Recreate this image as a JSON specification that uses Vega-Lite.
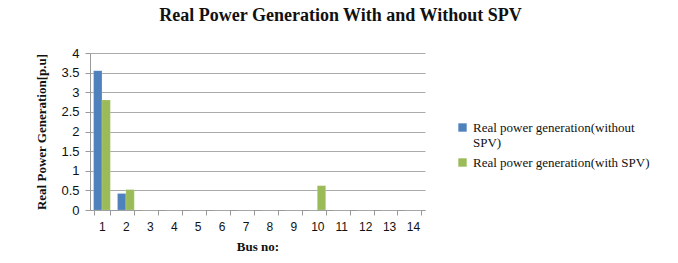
{
  "$schema": "https://vega.github.io/schema/vega-lite/v6.json",
  "autosize": {"type": "none"},
  "width": 335,
  "height": 157,
  "padding": {"left": 90, "top": 53, "right": 253, "bottom": 53},
  "background": "white",
  "title": {
    "text": "Real Power Generation With and Without SPV",
    "font": "Liberation Serif",
    "fontSize": 18,
    "fontWeight": "bold",
    "color": "#111",
    "anchor": "middle",
    "frame": "group",
    "dx": 83,
    "offset": 22
  },
  "data": {
    "values": [
      {"bus": 1, "series": "Real power generation(without SPV)", "value": 3.55},
      {"bus": 1, "series": "Real power generation(with SPV)", "value": 2.8},
      {"bus": 2, "series": "Real power generation(without SPV)", "value": 0.42},
      {"bus": 2, "series": "Real power generation(with SPV)", "value": 0.52},
      {"bus": 3, "series": "Real power generation(without SPV)", "value": 0},
      {"bus": 3, "series": "Real power generation(with SPV)", "value": 0},
      {"bus": 4, "series": "Real power generation(without SPV)", "value": 0},
      {"bus": 4, "series": "Real power generation(with SPV)", "value": 0},
      {"bus": 5, "series": "Real power generation(without SPV)", "value": 0},
      {"bus": 5, "series": "Real power generation(with SPV)", "value": 0},
      {"bus": 6, "series": "Real power generation(without SPV)", "value": 0},
      {"bus": 6, "series": "Real power generation(with SPV)", "value": 0},
      {"bus": 7, "series": "Real power generation(without SPV)", "value": 0},
      {"bus": 7, "series": "Real power generation(with SPV)", "value": 0},
      {"bus": 8, "series": "Real power generation(without SPV)", "value": 0},
      {"bus": 8, "series": "Real power generation(with SPV)", "value": 0},
      {"bus": 9, "series": "Real power generation(without SPV)", "value": 0},
      {"bus": 9, "series": "Real power generation(with SPV)", "value": 0},
      {"bus": 10, "series": "Real power generation(without SPV)", "value": 0},
      {"bus": 10, "series": "Real power generation(with SPV)", "value": 0.62},
      {"bus": 11, "series": "Real power generation(without SPV)", "value": 0},
      {"bus": 11, "series": "Real power generation(with SPV)", "value": 0},
      {"bus": 12, "series": "Real power generation(without SPV)", "value": 0},
      {"bus": 12, "series": "Real power generation(with SPV)", "value": 0},
      {"bus": 13, "series": "Real power generation(without SPV)", "value": 0},
      {"bus": 13, "series": "Real power generation(with SPV)", "value": 0},
      {"bus": 14, "series": "Real power generation(without SPV)", "value": 0},
      {"bus": 14, "series": "Real power generation(with SPV)", "value": 0}
    ]
  },
  "mark": {"type": "bar", "stroke": "#ffffff", "strokeOpacity": 0.3, "strokeWidth": 0.5},
  "encoding": {
    "x": {
      "field": "bus",
      "type": "ordinal",
      "scale": {"paddingInner": 0.3, "paddingOuter": 0.15},
      "axis": {
        "title": "Bus no:",
        "titleFont": "Liberation Serif",
        "titleFontSize": 13,
        "titleFontWeight": "bold",
        "titleColor": "#111",
        "titlePadding": 8,
        "labelAngle": 0,
        "labelFont": "Liberation Sans",
        "labelFontSize": 12,
        "labelColor": "#111",
        "labelPadding": 6,
        "domainColor": "#999",
        "tickColor": "#999",
        "tickBand": "extent",
        "tickSize": 5
      }
    },
    "xOffset": {
      "field": "series",
      "type": "nominal",
      "sort": ["Real power generation(without SPV)", "Real power generation(with SPV)"]
    },
    "y": {
      "field": "value",
      "type": "quantitative",
      "scale": {"domain": [0, 4]},
      "axis": {
        "title": "Real Power Generation[p.u]",
        "titleFont": "Liberation Serif",
        "titleFontSize": 13,
        "titleFontWeight": "bold",
        "titleColor": "#111",
        "titlePadding": 12,
        "values": [0, 0.5, 1, 1.5, 2, 2.5, 3, 3.5, 4],
        "format": "~g",
        "labelFont": "Liberation Sans",
        "labelFontSize": 13,
        "labelColor": "#111",
        "labelPadding": 6,
        "domainColor": "#999",
        "tickColor": "#999",
        "tickSize": 5,
        "gridColor": "#aaaaaa",
        "gridWidth": 1
      }
    },
    "color": {
      "field": "series",
      "type": "nominal",
      "sort": ["Real power generation(without SPV)", "Real power generation(with SPV)"],
      "scale": {
        "domain": ["Real power generation(without SPV)", "Real power generation(with SPV)"],
        "range": ["#4F81BD", "#9BBB59"]
      },
      "legend": {
        "title": null,
        "orient": "none",
        "legendX": 366,
        "legendY": 68,
        "symbolType": "square",
        "symbolSize": 70,
        "symbolStrokeWidth": 0,
        "labelFont": "Liberation Serif",
        "labelFontSize": 13,
        "labelColor": "#111",
        "labelLimit": 300,
        "rowPadding": 6,
        "labelExpr": "datum.label == 'Real power generation(without SPV)' ? ['Real power generation(without', 'SPV)'] : datum.label"
      }
    }
  },
  "config": {
    "view": {"stroke": null}
  }
}
